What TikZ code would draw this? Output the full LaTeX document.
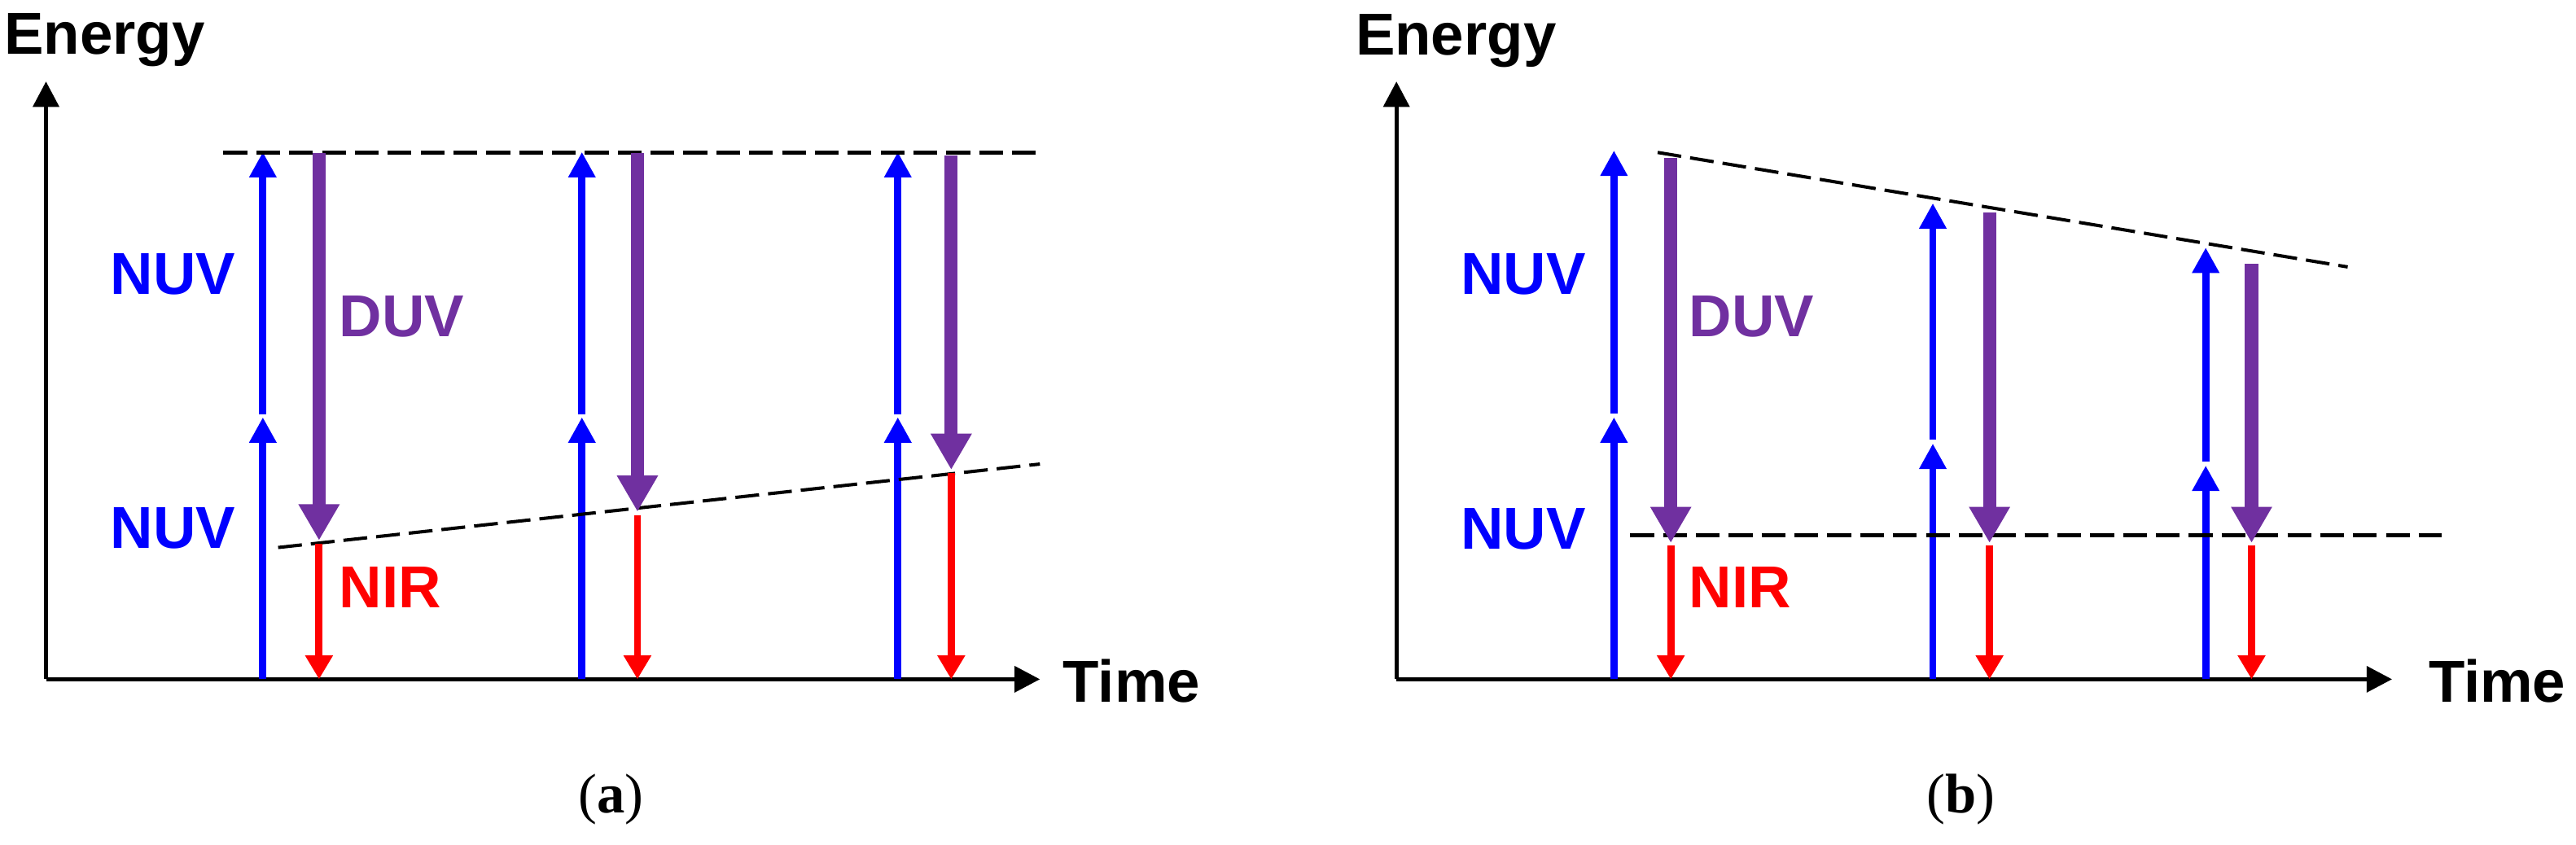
\documentclass[tikz,border=0pt]{standalone}
\usepackage{fontspec}
\newfontfamily\lsans{Liberation Sans}
\newfontfamily\lserif{Liberation Serif}
\usetikzlibrary{arrows.meta}
\definecolor{nuvblue}{RGB}{0,0,255}
\definecolor{duvpurple}{RGB}{112,48,160}
\definecolor{nirred}{RGB}{255,0,0}
\tikzset{
  axisline/.style={black, line width=2.4pt, -{Triangle[length=15.5pt,width=15.7pt]}},
  nuv/.style={nuvblue, line width=4.4pt, -{Triangle[length=15.5pt,width=15.7pt]}},
  duv/.style={duvpurple, line width=8pt, -{Triangle[length=22pt,width=23.5pt]}},
  nir/.style={nirred, line width=4.4pt, -{Triangle[length=14.5pt,width=16pt]}},
  level/.style={black, line width=2.5pt, dash pattern=on 14.5pt off 5.5pt},
  slope/.style={black, line width=2pt, dash pattern=on 14.5pt off 5.5pt},
  lbl/.style={font=\lsans\bfseries\fontsize{36}{40}\selectfont, inner sep=0pt, anchor=base west},
  captext/.style={font=\lserif\fontsize{34}{38}\selectfont, inner sep=0pt, anchor=base}
}
\begin{document}
\begin{tikzpicture}[x=1pt,y=-1pt]
\useasboundingbox (0,0) rectangle (1568,514);

% ================= panel (a) =================
\coordinate (Ao) at (28,413.5);
\coordinate (Ay) at (28,49.6);
\coordinate (Ax) at (633,413.5);
\draw[axisline] (Ao) -- (Ay);
\draw[axisline] (Ao) -- (Ax);

% blue NUV (two steps)
\foreach \n/\x in {1/160,2/354.2,3/546.5}{
  \coordinate (a\n b0) at (\x,413.5);
  \coordinate (a\n b1) at (\x,254);
  \coordinate (a\n b2) at (\x,252.3);
  \coordinate (a\n b3) at (\x,92.5);
  \draw[nuv] (a\n b0) -- (a\n b1);
  \draw[nuv] (a\n b2) -- (a\n b3);
}
% dashed levels
\coordinate (ta0) at (136,93);
\coordinate (ta1) at (633,93);
\draw[level] (ta0) -- (ta1);
\coordinate (sa0) at (169.3,333.3);
\coordinate (sa1) at (633,282.5);
\draw[slope] (sa0) -- (sa1);
% purple DUV and red NIR
\foreach \n/\x/\t/\e in {1/194.2/93/329,2/388/93/311.5,3/579/94.6/286}{
  \coordinate (a\n p0) at (\x,\t);
  \coordinate (a\n p1) at (\x,\e);
  \draw[duv] (a\n p0) -- (a\n p1);
  \coordinate (a\n r0) at (\x,\e+2);
  \coordinate (a\n r1) at (\x,413.5);
  \draw[nir] (a\n r0) -- (a\n r1);
}
\node[lbl] (enA) at (2.4,33.2) {Energy};
\node[lbl, anchor=base] (tiA) at (688.8,427.5) {Time};
\node[lbl, nuvblue] (nuvA1) at (67,179.2) {NUV};
\node[lbl, nuvblue] (nuvA2) at (67,334) {NUV};
\node[lbl, duvpurple] (duvA) at (206.4,204.8) {DUV};
\node[lbl, nirred] (nirA) at (206.4,369.8) {NIR};
\node[captext] (capA) at (372,494.6) {(\textbf{a})};

% ================= panel (b) =================
\coordinate (Bo) at (850,413.5);
\coordinate (By) at (850,49.6);
\coordinate (Bx) at (1456,413.5);
\draw[axisline] (Bo) -- (By);
\draw[axisline] (Bo) -- (Bx);

\foreach \n/\x/\m/\t in {1/982.4/254/91.6,2/1176.5/270/123.7,3/1342.6/283.4/150.7}{
  \coordinate (b\n b0) at (\x,413.5);
  \coordinate (b\n b1) at (\x,\m);
  \coordinate (b\n b2) at (\x,\m-2.3);
  \coordinate (b\n b3) at (\x,\t);
  \draw[nuv] (b\n b0) -- (b\n b1);
  \draw[nuv] (b\n b2) -- (b\n b3);
}
\coordinate (tb0) at (1009,92.8);
\coordinate (tb1) at (1429,162.5);
\draw[slope] (tb0) -- (tb1);
\coordinate (lb0) at (992.3,325.7);
\coordinate (lb1) at (1486,325.7);
\draw[level] (lb0) -- (lb1);
\foreach \n/\x/\t in {1/1017/96,2/1211/129.2,3/1370.5/160.8}{
  \coordinate (b\n p0) at (\x,\t);
  \coordinate (b\n p1) at (\x,330.5);
  \draw[duv] (b\n p0) -- (b\n p1);
  \coordinate (b\n r0) at (\x,332);
  \coordinate (b\n r1) at (\x,413.5);
  \draw[nir] (b\n r0) -- (b\n r1);
}
\node[lbl] (enB) at (825,33.6) {Energy};
\node[lbl, anchor=base] (tiB) at (1520,427.5) {Time};
\node[lbl, nuvblue] (nuvB1) at (889,179.2) {NUV};
\node[lbl, nuvblue] (nuvB2) at (889,334.2) {NUV};
\node[lbl, duvpurple] (duvB) at (1028,204.8) {DUV};
\node[lbl, nirred] (nirB) at (1028,369.8) {NIR};
\node[captext] (capB) at (1193.6,494.6) {(\textbf{b})};
\end{tikzpicture}
\end{document}
